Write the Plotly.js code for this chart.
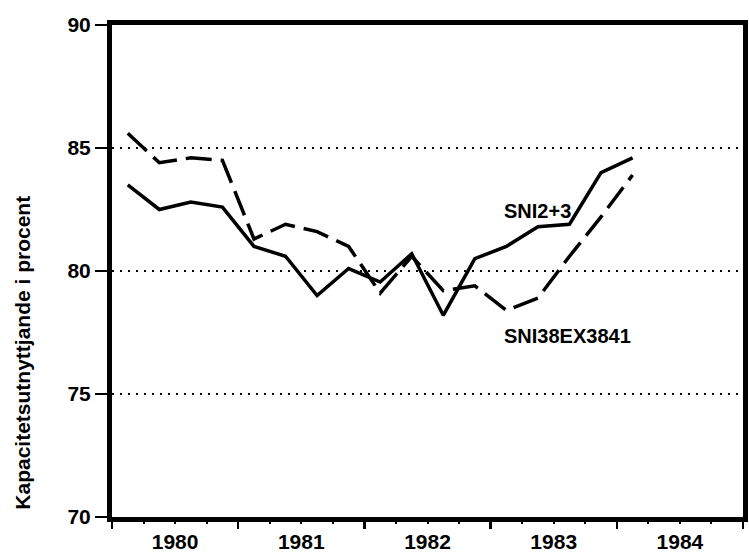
<!DOCTYPE html>
<html>
<head>
<meta charset="utf-8">
<script src="https://cdn.plot.ly/plotly-3.0.1.min.js"></script>
<style>html,body{margin:0;padding:0;background:#fff;}#chart{width:749px;height:552px;}</style>
</head>
<body>
<div id="chart"></div>
<script>
// Quarter mid-points, 1980 Q1 .. 1984 Q1
const quarters = [1980.125, 1980.375, 1980.625, 1980.875,
                  1981.125, 1981.375, 1981.625, 1981.875,
                  1982.125, 1982.375, 1982.625, 1982.875,
                  1983.125, 1983.375, 1983.625, 1983.875,
                  1984.125];
const sni23 = [83.5, 82.5, 82.8, 82.6, 81.0, 80.6, 79.0, 80.1, 79.55, 80.7, 78.2, 80.5, 81.0, 81.8, 81.9, 84.0, 84.6];
const sni38 = [85.6, 84.4, 84.6, 84.5, 81.3, 81.9, 81.6, 81.0, 79.1, 80.6, 79.2, 79.4, 78.4, 78.9, 80.6, 82.2, 83.9];
const yearLabels = ['1980', '1981', '1982', '1983', '1984'];
const yearCenters = [1980.5, 1981.5, 1982.5, 1983.5, 1984.5];
const yearBounds = [1980, 1981, 1982, 1983, 1984, 1985];
const yTicks = [70, 75, 80, 85, 90];
const labelSNI23 = 'SNI2+3';
const labelSNI38 = 'SNI38EX3841';
const yTitle = 'Kapacitetsutnyttjande i procent';

const F = 'Liberation Sans, Arial, sans-serif';
const traces = [
  {x: quarters, y: sni23, type: 'scatter', mode: 'lines', name: labelSNI23,
   line: {color: '#000', width: 3.5}, xaxis: 'x', yaxis: 'y'},
  {x: quarters, y: sni38, type: 'scatter', mode: 'lines', name: labelSNI38,
   line: {color: '#000', width: 3.5, dash: '26px,9px'}, xaxis: 'x2', yaxis: 'y'}
];
const layout = {
  width: 749, height: 552,
  margin: {l: 112, r: 6, t: 25, b: 35},
  paper_bgcolor: '#fff', plot_bgcolor: '#fff',
  showlegend: false,
  font: {family: F, color: '#000', size: 20, weight: 'bold'},
  xaxis: {
    range: [1980, 1985], tickvals: yearCenters, ticktext: yearLabels,
    ticks: 'outside', ticklen: 2, tickcolor: 'rgba(0,0,0,0)',
    showgrid: false, zeroline: false,
    showline: true, linewidth: 5, linecolor: '#000', mirror: true,
    tickfont: {family: F, size: 21, color: '#000', weight: 'bold'}
  },
  xaxis2: {
    overlaying: 'x', range: [1980, 1985], tickvals: yearBounds,
    ticks: 'outside', ticklen: 11, tickwidth: 2.5, tickcolor: '#000',
    showticklabels: false, showgrid: false, zeroline: false, showline: false,
    minor: {dtick: 0.25, tick0: 1980, ticks: 'outside', ticklen: 6, tickwidth: 2, tickcolor: '#000'}
  },
  yaxis: {
    range: [70, 90], tickvals: yTicks, ticktext: yTicks.map(String),
    ticks: 'outside', ticklen: 12, tickwidth: 2, tickcolor: '#000',
    showgrid: true, gridcolor: '#000', gridwidth: 2, griddash: '2px,6px',
    zeroline: false,
    showline: true, linewidth: 5, linecolor: '#000', mirror: true,
    tickfont: {family: F, size: 21, color: '#000', weight: 'bold'}
  },
  annotations: [
    {x: 1983.09, y: 82.43, xref: 'x', yref: 'y', text: labelSNI23, showarrow: false,
     xanchor: 'left', yanchor: 'middle', font: {family: F, size: 20, color: '#000', weight: 'bold'}},
    {x: 1983.09, y: 77.37, xref: 'x', yref: 'y', text: labelSNI38, showarrow: false,
     xanchor: 'left', yanchor: 'middle', font: {family: F, size: 20, color: '#000', weight: 'bold'}},
    {x: -0.141, y: 0.334, xref: 'paper', yref: 'paper', text: yTitle, showarrow: false,
     textangle: -90, xanchor: 'center', yanchor: 'middle',
     font: {family: F, size: 21, color: '#000', weight: 'bold'}}
  ]
};
Plotly.newPlot('chart', traces, layout, {staticPlot: true});
</script>
</body>
</html>
